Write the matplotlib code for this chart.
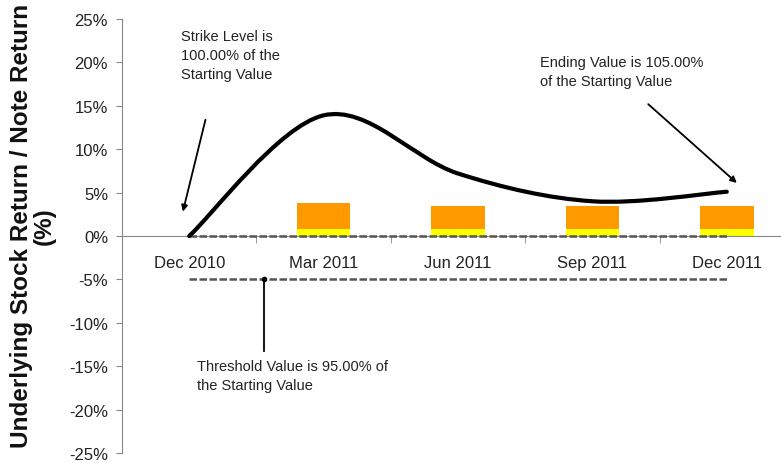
import matplotlib.pyplot as plt
import matplotlib.patches as mpatches
from matplotlib.path import Path
import numpy as np

plt.rcParams['font.family'] = ['Liberation Sans', 'DejaVu Sans']

# 季度类别
categories = ['Dec 2010', 'Mar 2011', 'Jun 2011', 'Sep 2011', 'Dec 2011']
# 股票回报（每个季度的值，平滑曲线连接）
stock_return = [0.0, 13.9, 7.2, 4.0, 5.1]
# 票息柱（黄色底部 + 橙色顶部）
bar_pos = [1, 2, 3, 4]
yellow_part = [0.8, 0.8, 0.8, 0.8]
bar_top = [3.8, 3.5, 3.5, 3.5]
strike_level = 0.0
threshold_level = -5.0
y_ticks = [25, 20, 15, 10, 5, 0, -5, -10, -15, -20, -25]


def smooth_path(xs, ys):
    # 类似 Excel 的平滑线：用三次贝塞尔连接各点
    pts = np.column_stack([xs, ys]).astype(float)
    n = len(pts)
    verts = [pts[0]]
    codes = [Path.MOVETO]
    for i in range(n - 1):
        p0 = pts[i - 1] if i > 0 else pts[i]
        p3 = pts[i + 2] if i + 2 < n else pts[i + 1]
        c1 = pts[i] + (pts[i + 1] - p0) / 6
        c2 = pts[i + 1] - (p3 - pts[i]) / 6
        verts += [c1, c2, pts[i + 1]]
        codes += [Path.CURVE4] * 3
    return Path(verts, codes)


fig = plt.figure(figsize=(7.81, 4.64), dpi=100)
ax = fig.add_axes([122 / 781, 10 / 464, 672 / 781, 434 / 464])

# 先设置坐标轴位置（会重置刻度样式）
for s in ['top', 'right']:
    ax.spines[s].set_visible(False)
ax.spines['bottom'].set_position(('data', 0))
ax.spines['bottom'].set_color('#888888')
ax.spines['left'].set_color('#888888')

orange_part = [t - y for t, y in zip(bar_top, yellow_part)]
ax.bar(bar_pos, yellow_part, width=0.4, color='#FFFF00', zorder=2)
ax.bar(bar_pos, orange_part, width=0.4, bottom=yellow_part, color='#FF9900', zorder=2)

# 行权线和阈值线
ax.plot([0, 4], [strike_level, strike_level], color='#555555', lw=1.8,
        linestyle=(0, (3, 1)), zorder=3)
ax.plot([0, 4], [threshold_level, threshold_level], color='#555555', lw=1.8,
        linestyle=(0, (3, 1)), zorder=3)

curve = mpatches.PathPatch(smooth_path(range(len(categories)), stock_return),
                           fill=False, edgecolor='black', lw=3,
                           capstyle='round', zorder=4)
ax.add_patch(curve)

ax.set_xlim(-0.5, 4.5)
ax.set_ylim(-25, 25)
ax.set_yticks(y_ticks)
ax.set_yticklabels([f'{v}%' for v in y_ticks], fontsize=12, color='#222222')
ax.set_xticks(range(len(categories)))
ax.set_xticklabels(categories, fontsize=12, color='#222222')
ax.set_xticks([0.5, 1.5, 2.5, 3.5], minor=True)
ax.tick_params(axis='x', which='major', length=0, pad=14)
ax.tick_params(axis='x', which='minor', length=5, direction='out', color='#888888')
ax.tick_params(axis='y', length=4, color='#888888', pad=6)

fig.text(33 / 781, 1 - 226 / 464, 'Underlying Stock Return / Note Return\n(%)',
         fontsize=17.5, fontweight='bold', rotation=90, ha='center', va='center',
         multialignment='center', linespacing=0.95, color='#111111')

arrow = dict(arrowstyle='-|>', color='black', lw=1.3, mutation_scale=9)
ax.annotate('', xy=(-0.052, 2.5), xytext=(0.126, 13.7), arrowprops=arrow)
ax.text(-0.06, 23.8, 'Strike Level is\n100.00% of the\nStarting Value',
        fontsize=10.5, va='top', ha='left', linespacing=1.45, color='#222222')

ax.annotate('', xy=(4.09, 5.9), xytext=(3.40, 15.4), arrowprops=arrow)
ax.text(2.61, 20.8, 'Ending Value is 105.00%\nof the Starting Value',
        fontsize=10.5, va='top', ha='left', linespacing=1.45, color='#222222')

ax.plot([0.558, 0.558], [threshold_level, -13.3], color='black', lw=1.3,
        marker='o', markersize=3, markevery=[0], zorder=5)
ax.text(0.06, -14.2, 'Threshold Value is 95.00% of\nthe Starting Value',
        fontsize=10.5, va='top', ha='left', linespacing=1.45, color='#222222')

plt.savefig('out.png', dpi=100)
